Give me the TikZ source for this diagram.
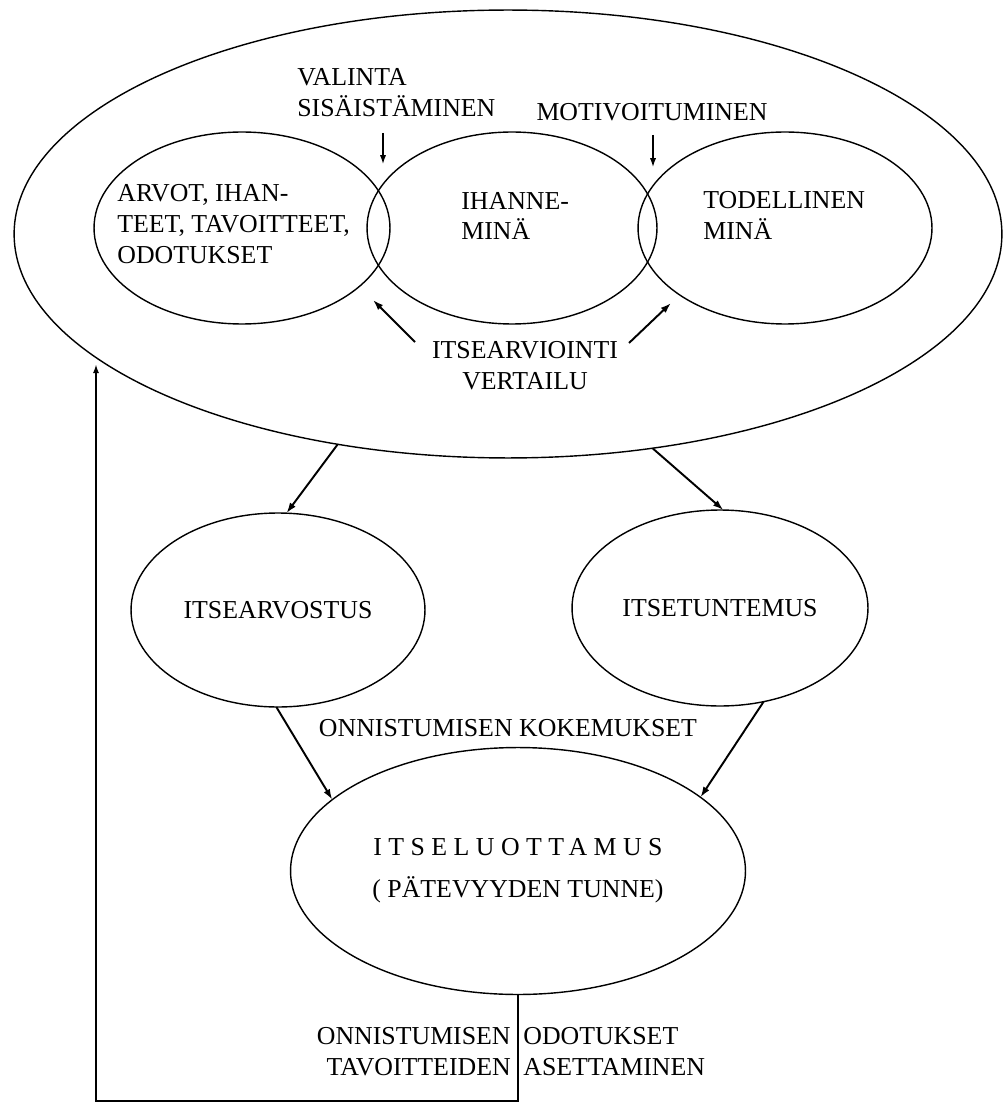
\documentclass[tikz,border=0pt]{standalone}
\usepackage{fontspec}
\setmainfont{Liberation Serif}
\newfontfamily\harva[LetterSpace=25]{Liberation Serif}
\usetikzlibrary{shapes.geometric,arrows.meta}

\begin{document}
\begin{tikzpicture}[x=0.02cm,y=-0.02cm,
    soikio/.style={draw,ellipse,inner sep=0pt,outer sep=0pt,line width=0.8pt,
      font=\fontsize{14.7}{17.6}\selectfont,align=center},
    teksti/.style={inner sep=0pt,align=left,font=\fontsize{14.7}{17.6}\selectfont},
    nuoli/.style={-{Latex[length=6pt,width=4pt]},line width=1.1pt},
    ohut/.style={-{Latex[length=5pt,width=3.5pt]},line width=0.7pt}]
      \useasboundingbox (0,0) rectangle (1007,1104);
      \node[soikio,minimum width=19.76cm,minimum height=8.96cm] (mina) at (508,234) {};
      \node[soikio,minimum width=5.92cm,minimum height=3.84cm] (arvot) at (242,228) {};
      \node[soikio,minimum width=5.8cm,minimum height=3.84cm] (ihanne) at (512,228) {};
      \node[soikio,minimum width=5.88cm,minimum height=3.84cm] (todell) at (785,228) {};
      \node[soikio,minimum width=5.88cm,minimum height=3.88cm] (arvostus) at (278,610) {ITSEARVOSTUS};
      \node[soikio,minimum width=5.92cm,minimum height=3.92cm] (tuntemus) at (720,608) {ITSETUNTEMUS};
      \node[soikio,minimum width=9.1cm,minimum height=4.94cm] (luott) at (518,871)
        {{\harva ITSELUOTTAMUS}\\[6.2pt]( PÄTEVYYDEN TUNNE)};
      \node[teksti,anchor=west] (valinta) at (297,93) {VALINTA\\SISÄISTÄMINEN};
      \node[teksti] (motiv) at (652,112) {MOTIVOITUMINEN};
      \node[teksti,anchor=west] (arvotxt) at (117,224) {ARVOT, IHAN-\\TEET, TAVOITTEET,\\ODOTUKSET};
      \node[teksti,anchor=west] (ihannetxt) at (461,216) {IHANNE-\\MINÄ};
      \node[teksti,anchor=west] (todelltxt) at (703,215) {TODELLINEN\\MINÄ};
      \node[teksti,align=center] (vertailu) at (525,366) {ITSEARVIOINTI\\VERTAILU};
      \node[teksti] (kokemus) at (508,728) {ONNISTUMISEN KOKEMUKSET};
      \node[teksti,align=right,anchor=east] (tavoite) at (511,1052) {ONNISTUMISEN\\TAVOITTEIDEN};
      \node[teksti,anchor=west] (asetus) at (523,1052) {ODOTUKSET\\ASETTAMINEN};
      \coordinate (va1) at (383,133);
      \coordinate (va2) at (383,164);
      \coordinate (mo1) at (653,135);
      \coordinate (mo2) at (653,167);
      \coordinate (ia1) at (415,342);
      \coordinate (ia2) at (373,300);
      \coordinate (ib1) at (629,343);
      \coordinate (ib2) at (671,303);
      \coordinate (kulma) at (96,1101);
      \draw[ohut] (va1) -- (va2);
      \draw[ohut] (mo1) -- (mo2);
      \draw[nuoli] (ia1) -- (ia2);
      \draw[nuoli] (ib1) -- (ib2);
      \draw[nuoli] (mina.-129.7) -- (arvostus.85);
      \draw[nuoli] (mina.-56.4) -- (tuntemus.88);
      \draw[nuoli] (arvostus.-91) -- (luott.159.4);
      \draw[nuoli] (tuntemus.-65.6) -- (luott.22.2);
      \draw[ohut,line width=0.8pt] (luott.south) |- (kulma) -- (kulma |- mina.-162.7);
    \end{tikzpicture}
\end{document}
